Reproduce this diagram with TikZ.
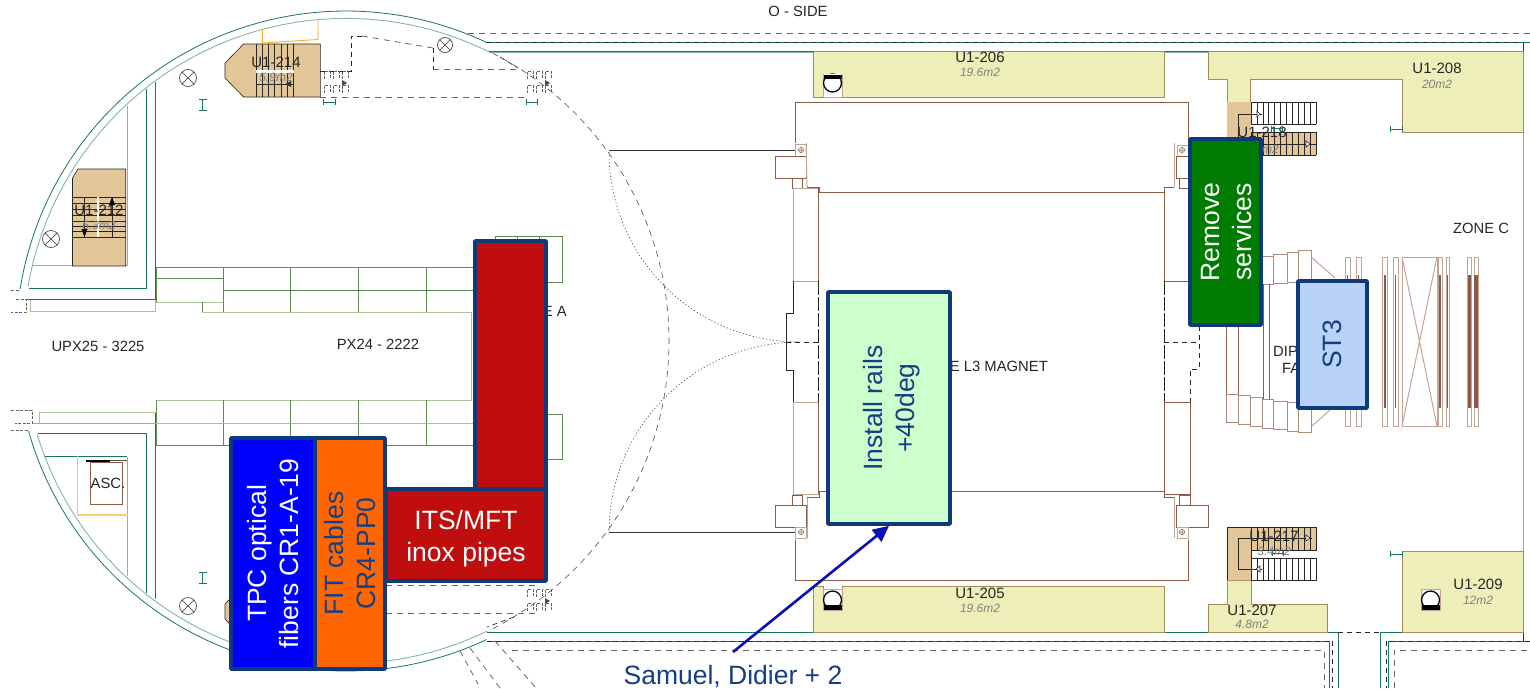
\documentclass[tikz,border=0pt]{standalone}
\usepackage{fontspec}
\setmainfont{Liberation Sans}
\usetikzlibrary{arrows.meta}
\definecolor{wallc}{RGB}{25,120,90}
\definecolor{walll}{RGB}{130,185,160}
\definecolor{gridc}{RGB}{95,140,75}
\definecolor{gridl}{RGB}{170,195,150}
\definecolor{brn}{RGB}{140,90,70}
\definecolor{brnl}{RGB}{195,165,150}
\definecolor{room}{RGB}{238,238,184}
\definecolor{roome}{RGB}{165,140,90}
\definecolor{tanc}{RGB}{227,198,152}
\definecolor{navy}{RGB}{15,58,122}
\definecolor{txtnavy}{RGB}{22,62,130}
\definecolor{orng}{RGB}{255,170,30}
\tikzset{
  wall/.style={draw=wallc,line width=.8pt},
  walllight/.style={draw=walll,line width=.9pt},
  gridl1/.style={draw=gridc,line width=.8pt},
  gridl2/.style={draw=gridl,line width=1pt},
  brline/.style={draw=brn,line width=.7pt},
  brlight/.style={draw=brnl,line width=1pt},
  roombox/.style={fill=room,draw=roome,line width=.7pt},
  tanbox/.style={fill=tanc,draw=none},
  blk/.style={draw=black!85,line width=.6pt},
  gdash/.style={draw=black!60,line width=.8pt,dash pattern=on 6pt off 5pt},
  kdash/.style={draw=black!85,line width=.7pt,dash pattern=on 5pt off 4pt},
  ldash/.style={draw=black!85,line width=.7pt,dash pattern=on 14pt off 2pt},
  fdash/.style={draw=black!60,line width=.5pt,dash pattern=on 3pt off 1.5pt},
  dotc/.style={draw=black!75,line width=.6pt,dash pattern=on 1.2pt off 2.2pt},
  lab/.style={font=\fontsize{15}{17}\selectfont,text=black!85,inner sep=0pt},
  area/.style={font=\fontsize{12}{14}\itshape\selectfont,text=black!50,inner sep=0pt},
  plan/.style={font=\fontsize{14.8}{16}\selectfont,text=black!85,inner sep=0pt},
  taskbox/.style={draw=navy,line width=3.6pt,rounded corners=.6pt,inner sep=0pt,align=center,rotate=90,font=\fontsize{26.5}{32}\selectfont},
  hmark/.style={draw=wallc,line width=.9pt},
}
\newcommand{\xcirc}[3]{%
  \draw[black!80,line width=.6pt,fill=white] (#1,#2) circle[radius=#3pt];
  \draw[black!80,line width=.6pt] (#1,#2) +(-.7*#3,-.7*#3) -- +(.7*#3,.7*#3) (#1,#2) +(.7*#3,-.7*#3) -- +(-.7*#3,.7*#3);}
\newcommand{\plus}[2]{%
  \draw[brn,line width=.5pt] (#1,#2) circle[radius=2.6pt] (#1-3,#2) -- (#1+3,#2) (#1,#2-3) -- (#1,#2+3);}
\newcommand{\liftdn}[2]{% bar on top, x,y = top-left
  \fill[white] (#1,#2) rectangle ++(19,23);
  \draw[brnl] (#1,#2) rectangle ++(19,23);
  \draw[black,line width=1.3pt] (#1+9.5,#2+9) circle[radius=9pt];
  \fill[white] (#1+.5,#2) rectangle ++(18,1);
  \fill[black] (#1+.5,#2+1) rectangle ++(18,4);}
\newcommand{\liftup}[2]{% bar at bottom, x,y = top-left
  \fill[white] (#1,#2) rectangle ++(19,21);
  \draw[brnl] (#1,#2) rectangle ++(19,21);
  \draw[black,line width=1.3pt] (#1+9.5,#2+11) circle[radius=9pt];
  \fill[white] (#1+.5,#2+16) rectangle ++(18,5);
  \fill[black] (#1+.5,#2+16) rectangle ++(18,5);}
\newcommand{\doors}[2]{%
  \foreach \d in {0,9,18}{\draw[fdash] (#1+\d,#2+8) -- ++(0,-8) -- ++(6,0) -- ++(0,8);
    \draw[fdash] (#1+\d,#2+22) -- ++(0,-8) -- ++(6,0) -- ++(0,8);}
  \fill[black!70] (#1+23,#2+12) -- ++(-5,-3) -- ++(0,6) -- cycle;}
\newcommand{\imark}[2]{\draw[hmark] (#1-4,#2-5.5) -- ++(8,0) (#1,#2-5.5) -- ++(0,11) (#1-4,#2+5.5) -- ++(8,0);}
\newcommand{\hmarkat}[3]{\draw[hmark] (#1,#2-3) -- ++(0,6) (#1,#2) -- (#3,#2) (#3,#2-3) -- ++(0,6);}
\newcommand{\coil}[3]{\draw[brlight] (#1,257) rectangle (#2,426);
  \draw[brn,line width=#3pt] ({(#1+#2)/2},275) -- ({(#1+#2)/2},408);}
\begin{document}
\begin{tikzpicture}[x=1pt,y=-1pt]
\clip (0,0) rectangle (1530,688);
\fill[white] (0,0) rectangle (1530,688);

% --- perimeter walls ---
\draw[wall] plot[domain=171:64.7,samples=120] ({346+330*cos(\x)},{341-330*sin(\x)});
\draw[walllight] plot[domain=170.3:63.7,samples=120] ({346+322.6*cos(\x)},{341-322.6*sin(\x)});
\draw[wall] plot[domain=195.8:295.2,samples=120] ({346+330*cos(\x)},{341-330*sin(\x)});
\draw[walllight] plot[domain=196.8:296,samples=120] ({346+322.6*cos(\x)},{341-322.6*sin(\x)});
\draw[gdash] (468,33) -- (1530,33);
\draw[wall] (487,42) -- (1530,42);
\draw[kdash] (487,42) -- (1520,42);
\draw[walllight] (489,52) -- (1523,52);
\draw[wall] (489,51.3) -- (1523,51.3);
\draw[walllight] (1523,51) -- (1523,551);
\draw[black!80,line width=.6pt] (1523,42) -- (1523,51);
\draw[wall] (487,632) -- (1338,632) -- (1338,688);
\draw[kdash] (1338,632) -- (1380,632);
\draw[wall] (1380,688) -- (1380,632) -- (1523,632);
\draw[wall] (487,641) -- (1329,641) -- (1329,688);
\draw[kdash] (487,641) -- (1329,641);
\draw[gdash] (512,650) -- (1324,650) -- (1324,688);
\draw[kdash] (1332,641) -- (1332,688);
\draw[wall] (1388,688) -- (1388,641) -- (1530,641);
\draw[kdash] (1390,641) -- (1530,641);
\draw[kdash] (1386,641) -- (1386,688);
\draw[gdash] (1394,688) -- (1394,650) -- (1530,650);
\draw[black!80,line width=.6pt] (1523,632) -- (1523,641);
\draw[gdash] (460,651) -- (478,684);
\draw[gdash] (470,648) -- (500,688);
\draw[gdash] (495,641) -- (536,688);

% --- west bay, upper walls ---
\draw[wall] (155.5,82) -- (155.5,299.5) -- (27,299.5);
\draw[gridl2] (30,300) -- (30,311) -- (155.5,311) -- (155.5,300);
\draw[wall] (146.5,89) -- (146.5,288) -- (28.5,288);
\draw[walllight] (127,106) -- (127,265.5) -- (33,265.5);
\draw[fdash] (11,290) -- (20,290) (16,299) -- (26,299) -- (26,312) -- (11,312);
% --- lower walls ---
\draw[wall] (155.5,412) -- (155.5,599);
\draw[gridl2] (39,423) -- (39,412) -- (155.5,412);
\draw[walllight] (33,423) -- (155.5,423);
\draw[wall] (37.5,433) -- (146,433) -- (146,593);
\draw[wall] (45,456.5) -- (127,456.5);
\draw[walllight] (127,456.5) -- (127,576);
\draw[fdash] (11,410) -- (32,410) -- (32,423) -- (15,423) (11,430) -- (28,430);

% --- corridor grids ---
\draw[gridl1] (156,267) -- (473,267) (156,278.5) -- (223,278.5) (223,290) -- (473,290);
\draw[gridl2] (156,302) -- (223,302);
\draw[gridl1] (156,267) -- (156,302) (202,302) -- (202,312) (223,267) -- (223,312) (290,267) -- (290,312) (358,267) -- (358,312) (426,267) -- (426,312);
\draw[gridl2] (202,312.5) -- (471,312.5) -- (471,400) -- (156,400);
\draw[gridl1] (156,400) -- (156,445) -- (473,445) (223,400) -- (223,445) (290,400) -- (290,445) (358,400) -- (358,445) (426,400) -- (426,445);
\draw[gridl2] (156,423) -- (473,423);
\draw[gridl1] (495,241) -- (495,236) -- (562,236) -- (562,282) -- (546,282) (517,236) -- (517,241) (539,236) -- (539,241);
\draw[gridl1] (546,414) -- (562,414) -- (562,459) -- (546,459);

% --- stair U1-212 ---
\draw[tanbox,draw=black!85,line width=.6pt] (72.5,178) -- (78,169) -- (125.7,169) -- (125.7,266) -- (72.5,266) -- cycle;
\foreach \y in {197,203,209,215,221,226,231,237}{\draw[blk] (72.5,\y) -- (125.7,\y);}
\draw[blk] (84.5,197) -- (84.5,237) (112,197) -- (112,237);
\draw[white,line width=1.6pt] (98,197) -- (98,237);
\node[lab] (r212) at (99,210) {U1-212};
\node[area] (a212) at (99,225) {6.3m2};
\draw[blk] (112,200) -- (112,208) (84.5,228) -- (84.5,235);
\fill[black] (112,197) -- (109,205) -- (115,205) -- cycle (84.5,237) -- (81.5,229) -- (87.5,229) -- cycle;

% --- stair U1-214 ---
\draw[tanbox,draw=black!85,line width=.6pt] (225,63) -- (243.6,44) -- (320.4,44) -- (320.4,97) -- (243.6,97) -- (225,78) -- cycle;
\foreach \x in {256,262,268,274,281,287,293.5}{\draw[blk] (\x,44) -- (\x,97);}
\draw[blk] (256,84) -- (293.5,84);
\fill[white] (256,70) rectangle (293.5,72.5);
\node[lab] (r214) at (276,62) {U1-214};
\node[area] (a214) at (276,77) {5.9m2};
\draw[orng,line width=.9pt] (262.5,30) -- (262.5,43) -- (318,39.5) -- (318,20.5);
\fill[black!80] (285,84) -- (291,81) -- (291,87) -- cycle;

% --- mirrored stair, mostly hidden ---
\draw[tanbox,draw=black!85,line width=.6pt] (225,604) -- (243,585) -- (320,585) -- (320,638) -- (243,638) -- (225,619) -- cycle;

% --- lift ASC ---
\draw[orng!70,line width=.9pt] (77,456) -- (77,515);
\draw[orng!60,line width=2pt] (77,515) -- (128,515);
\draw[draw=brn,line width=1pt] (90,462) rectangle (122.5,504);
\draw[black,line width=1.4pt] (86,461) -- (110,461);
\draw[black!70,line width=.7pt] (110,460) -- (127,460);
\node[plan] (asc) at (108,483) {ASC.};

% --- markers ---
\xcirc{51}{239}{8.5}
\xcirc{188}{78}{8.5}
\xcirc{188}{606}{8.5}
\xcirc{445}{45}{7.5}
\imark{202.5}{105}
\imark{202.5}{578}
\hmarkat{323}{102}{335}
\hmarkat{526}{102}{537}

% --- dashed service path, top ---
\draw[gdash] (320,97) -- (526,97);
\draw[kdash] (320,71) -- (351,71) -- (351,36) -- (362,36);
\draw[gdash] (362,36) -- (433,48);
\draw[kdash] (433,48) -- (433,69);
\draw[gdash] (433,69) -- (518,69);
\draw[kdash] (500,57) -- (518,68);
\doors{324}{71}
\doors{527}{71}
% --- bottom ---
\draw[gdash] (386,585) -- (538,585);
\draw[gdash] (386,613) -- (538,613);
\draw[kdash] (514,617) -- (487,627);
\doors{527}{589}

% --- large dashed circle and dotted arcs ---
\draw[draw=black!70,line width=.6pt,dash pattern=on 6pt off 5pt] plot[domain=63:-63,samples=100] ({346+323*cos(\x)},{341-323*sin(\x)});
\draw[dotc] plot[domain=180:270,samples=60] ({799+190*cos(\x)},{152-190*sin(\x)});
\draw[dotc] plot[domain=90:180,samples=60] ({799+190*cos(\x)},{532-190*sin(\x)});
\draw[black!80,line width=.9pt] (609,150) -- (795,150);
\draw[black!80,line width=.9pt] (609,532) -- (795,532);

% --- L3 magnet ---
\draw[brline] (795,143) -- (795,102) -- (1188,102) -- (1188,143);
\draw[brline] (795,540) -- (795,580) -- (1188,580) -- (1188,540);
\draw[brline] (819,192) -- (1164,192);
\draw[brline] (819,491) -- (1164,491);
% left upper
\draw[brlight] (795,144) rectangle (806,156);
\plus{801}{150}
\draw[brline] (775,156) rectangle (806,178);
\draw[brline] (792,178) rectangle (802,188);
\draw[brlight] (806,143) -- (807,187);
\draw[brline] (807,187) -- (819,187) -- (819,192);
\draw[brlight] (793,188) rectangle (818,281);
\draw[brline] (818,188) -- (818,281);
\draw[blk] (793,281) -- (793,313) -- (786,313) -- (786,342);
\draw[blk] (786,342) -- (786,370) -- (793,370) -- (793,402);
\draw[ldash] (818,281) -- (818,402);
\draw[kdash] (786,342) -- (818,342);
% left lower
\draw[brlight] (793,402) rectangle (818,494);
\draw[brline] (818,402) -- (818,494);
\draw[brline] (792,495) rectangle (802,505);
\draw[brline] (775,505) rectangle (806,527);
\draw[brlight] (795,527) rectangle (806,538);
\plus{801}{532}
\draw[brlight] (807,497) -- (807,538);
\draw[brline] (819,491) -- (819,497) -- (807,497);
% right upper
\draw[brlight] (1177,145) rectangle (1188,156);
\plus{1182}{150}
\draw[brlight] (1174,143) -- (1174,187);
\draw[brline] (1174,187) -- (1164,187) -- (1164,192);
\draw[brline] (1179,178) rectangle (1190,188);
\draw[brline] (1176,156) rectangle (1208,178);
\draw[brlight] (1190,188) -- (1190,281);
\draw[brline] (1164,188) -- (1164,281) -- (1190,281);
\draw[ldash] (1164,281) -- (1164,402);
\draw[kdash] (1190,281) -- (1190,313) -- (1199,313) -- (1199,369) -- (1190,369) -- (1190,402);
\draw[kdash] (1164,342) -- (1199,342);
% right lower
\draw[brline] (1164,402) -- (1164,494) -- (1190,494) -- (1190,402) -- cycle;
\draw[brline] (1179,495) rectangle (1190,505);
\draw[brline] (1176,505) rectangle (1208,527);
\draw[brlight] (1177,527) rectangle (1188,538);
\plus{1182}{532}
\draw[brlight] (1174,497) -- (1174,538);
\draw[brline] (1174,497) -- (1164,497) -- (1164,491);

% --- dipole ---
\foreach \a/\b/\t/\bb in {1226/1238/394/422, 1238/1250/395/424, 1250/1262/397/426, 1262/1273/399/428, 1273/1287/401/429, 1287/1298/402/431, 1298/1311/404/432}{
  \draw[brlight,brn!70] (\a,\t) rectangle (\b,\bb);}
\foreach \a/\b/\t/\bb in {1226/1238/262/290, 1238/1250/260/288, 1250/1262/258/286, 1262/1273/256/284, 1273/1287/254/283, 1287/1298/252/282, 1298/1311/250.5/280}{
  \draw[brlight,brn!70] (\a,\t) rectangle (\b,\bb);}
\draw[brline] (1226,325) -- (1226,394) (1238,325) -- (1238,394);
\draw[brline] (1263,284) -- (1263,399) (1269,284) -- (1269,399);
\draw[brlight] (1311,257) -- (1335,278) (1312,426) -- (1330,410);
\node[plan,anchor=west] (dip) at (1273,351) {DIPOLE};
\node[plan,anchor=west] (fan) at (1282,368) {FAN};
\coil{1345}{1350}{.8}
\coil{1356}{1361}{.8}
\coil{1382}{1387}{2}
\coil{1393}{1398}{1.4}
\draw[brlight] (1402,257) rectangle (1437,426);
\draw[brlight] (1402,257) -- (1437,426) (1437,257) -- (1402,426);
\coil{1438}{1442}{2}
\coil{1446}{1449}{1.5}
\coil{1467}{1471}{3}
\coil{1474}{1478}{3.6}

% --- rooms ---
\draw[roombox] (813,51) -- (1164,51) -- (1164,97) -- (842,97) -- (842,74) -- (823,74) -- (823,97) -- (813,97) -- cycle;
\liftdn{823}{74}
\node[lab] (r206) at (980,57) {U1-206};
\node[area] (a206) at (980,72) {19.6m2};
\draw[roombox] (813,632) -- (1164,632) -- (1164,586) -- (842,586) -- (842,610) -- (823,610) -- (823,586) -- (813,586) -- cycle;
\liftup{823}{589}
\node[lab] (r205) at (980,593.5) {U1-205};
\node[area] (a205) at (980,608) {19.6m2};

\draw[roombox] (1208,51) -- (1523,51) -- (1523,132) -- (1402,132) -- (1402,79) -- (1250,79) -- (1250,102) -- (1227,102) -- (1227,79) -- (1208,79) -- cycle;
\node[lab] (r208) at (1437,68) {U1-208};
\node[area] (a208) at (1437,84) {20m2};
\fill[tanc] (1227,102) rectangle (1251,156);
\fill[tanc] (1251,132) rectangle (1316,155);
\foreach \i in {0,...,11}{\draw[blk] ({1251+5.9*\i},102) -- ({1251+5.9*\i},124) ({1251+5.9*\i},132) -- ({1251+5.9*\i},155);}
\draw[blk] (1251,102) -- (1316,102) (1251,124) -- (1316,124) (1251,132) -- (1316,132) (1251,155) -- (1316,155);
\draw[blk] (1262,114) -- (1238,114) -- (1238,137) (1251,144) -- (1316,144);
\draw[blk,fill=white] (1260,114) -- (1257,111) -- (1257,117) -- cycle;
\draw[blk,fill=white] (1310,144) -- (1306,141) -- (1306,147) -- cycle;
\node[lab] (r218) at (1262,132) {U1-218};
\node[area] (a218) at (1262,149) {3.4m2};
\hmarkat{1271}{128.5}{1282}
\hmarkat{1390}{129}{1402}

\draw[roombox] (1208,632) -- (1208,604) -- (1227,604) -- (1227,580) -- (1251,580) -- (1251,604) -- (1327,604) -- (1327,632) -- cycle;
\node[lab] (r207) at (1252,610) {U1-207};
\node[area] (a207) at (1252,624.5) {4.8m2};
\fill[tanc] (1227,527) -- (1316,527) -- (1316,550) -- (1251,550) -- (1251,580) -- (1227,580) -- cycle;
\foreach \i in {0,...,11}{\draw[blk] ({1251+5.9*\i},527) -- ({1251+5.9*\i},550) ({1251+5.9*\i},558) -- ({1251+5.9*\i},580);}
\draw[blk] (1227,580) -- (1227,527) -- (1316,527) -- (1316,550) -- (1251,550) -- (1251,558) -- (1316,558) -- (1316,580) -- (1251,580);
\draw[blk] (1251,550) -- (1251,580);
\draw[blk] (1312,538) -- (1238,538) -- (1238,569) -- (1262,569);
\draw[blk,fill=white] (1310,538) -- (1306,535) -- (1306,541) -- cycle;
\draw[blk,fill=white] (1256,569) -- (1260,566) -- (1260,572) -- cycle;
\node[lab] (r217) at (1274,536) {U1-217};
\node[area] (a217) at (1274,551) {3.4m2};
\hmarkat{1272}{553}{1283}

\draw[roombox] (1402,551) -- (1523,551) -- (1523,632) -- (1402,632) -- cycle;
\liftup{1421}{589}
\node[lab] (r209) at (1478,584) {U1-209};
\node[area] (a209) at (1478,600) {12m2};
\hmarkat{1390}{554}{1402}

% --- plan labels ---
\node[plan] (oside) at (798,11) {O - SIDE};
\node[plan] (zonec) at (1481,228) {ZONE C};
\node[plan] (upx) at (98,346) {UPX25 - 3225};
\node[plan] (px) at (378,344) {PX24 - 2222};
\node[plan,anchor=east] (zonea) at (567,311) {ZONE A};
\node[plan,anchor=east] (zonel3) at (1048,366) {ZONE L3 MAGNET};

% --- task boxes (rotated nodes: width = vertical extent) ---
\node[taskbox,fill={rgb,255:red,192;green,14;blue,14},minimum width=248pt,minimum height=71pt] (redbar) at (510.5,365) {};
\node[draw=navy,line width=3.6pt,rounded corners=.6pt,inner sep=0pt,align=center,font=\fontsize{26.5}{32}\selectfont,text=white,fill={rgb,255:red,192;green,14;blue,14},minimum width=160pt,minimum height=92pt] (its) at (466,535) {\rule{0pt}{27pt}ITS/MFT\\inox pipes};
\node[taskbox,fill={rgb,255:red,0;green,0;blue,255},text=white,minimum width=231pt,minimum height=84pt] (tpc) at (273,553.5) {TPC optical\\fibers CR1-A-19};
\node[taskbox,fill={rgb,255:red,255;green,102;blue,0},text=txtnavy,minimum width=231pt,minimum height=70pt] (fit) at (350,553.5) {FIT cables\\CR4-PP0};
\node[taskbox,fill={rgb,255:red,204;green,255;blue,204},text=txtnavy,minimum width=232pt,minimum height=122pt] (install) at (889,408) {\rule{0pt}{25pt}Install rails\\+40deg};
\node[taskbox,fill={rgb,255:red,0;green,125;blue,0},text=white,minimum width=186pt,minimum height=71pt] (remove) at (1225.5,232) {\rule{0pt}{21pt}Remove\\services};
\node[taskbox,fill={rgb,255:red,185;green,210;blue,247},text=txtnavy,minimum width=127pt,minimum height=69pt] (st3) at (1332.5,344.5) {ST3};

% --- assignment ---
\node[font=\fontsize{26.5}{30}\selectfont,text=txtnavy,inner sep=0pt,anchor=base] (samuel) at (733,684) {Samuel, Didier + 2};
\coordinate (arrowstart) at (733,652);
\draw[line width=2.6pt,draw={rgb,255:red,8;green,16;blue,180},-{Triangle[length=16pt,width=15pt]}] (arrowstart) -- (install.west);
\end{tikzpicture}
\end{document}
